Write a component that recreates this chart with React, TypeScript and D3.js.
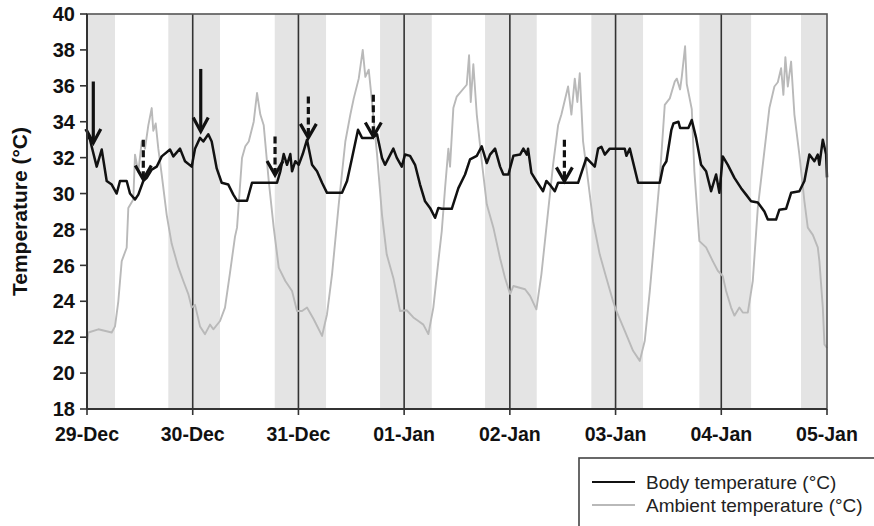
import React from "react";
import * as d3 from "d3";

// hours since 29-Dec 00:00
const dayLabels = ["29-Dec", "30-Dec", "31-Dec", "01-Jan", "02-Jan", "03-Jan", "04-Jan", "05-Jan"];
const yTicks = [18, 20, 22, 24, 26, 28, 30, 32, 34, 36, 38, 40];
const nightStarts = [0, 18.46, 42.62, 66.53, 90.37, 114.5, 139.03, 162.1];
const nightEnds = [6.36, 30.2, 54.27, 78.27, 102.1, 126.24, 150.77, 168];

const bodyHours = [0, 0.68, 2.2, 3.34, 4.47, 5.61, 6.74, 7.49, 9.01, 9.76, 10.9, 11.65, 12.78, 13.56, 14.69, 15.83, 16.96, 18.85, 19.6, 21.12, 22.25, 23.77, 24.52, 25.66, 26.41, 27.54, 28.31, 29.45, 30.58, 32.08, 33.22, 34.06, 36.33, 37.46, 43.14, 43.89, 44.66, 45.41, 46.16, 46.55, 47.3, 48.07, 48.98, 49.95, 51.09, 52.22, 53.36, 54.49, 57.9, 59.04, 60.17, 61.53, 62.44, 64.71, 65.85, 66.98, 67.66, 69.55, 70.32, 71.46, 72.2, 73.34, 74.48, 75.61, 76.75, 77.88, 79.02, 79.77, 80.54, 82.81, 84.31, 85.83, 86.96, 88.49, 89.62, 90.76, 91.5, 92.64, 93.78, 94.53, 95.66, 96.8, 98.32, 99.07, 99.84, 100.13, 100.89, 102.02, 103.54, 104.29, 105.06, 106.2, 106.95, 111.49, 113.37, 114.51, 115.28, 116.03, 116.78, 117.55, 118.68, 122.09, 122.45, 123.23, 125.11, 130.04, 130.79, 131.54, 132.67, 133.13, 134.27, 134.65, 136.53, 137.3, 138.28, 139.41, 140.55, 141.69, 142.82, 143.57, 144.34, 145.48, 146.98, 148.5, 149.63, 150.77, 152.29, 153.79, 154.56, 156.44, 157.19, 158.71, 159.85, 161.73, 162.87, 164.0, 165.14, 165.91, 166.27, 167.05, 167.8, 168];
const bodyTemps = [33.3, 33.0, 31.5, 32.45, 30.7, 30.5, 30.0, 30.7, 30.7, 30.0, 29.67, 29.94, 30.7, 30.87, 31.33, 31.5, 32.07, 32.45, 32.07, 32.5, 31.8, 31.5, 32.5, 33.1, 32.9, 33.3, 32.9, 31.4, 30.6, 30.5, 29.94, 29.6, 29.6, 30.6, 30.6, 31.24, 32.2, 31.6, 32.2, 31.24, 31.8, 31.6, 32.2, 33.0, 31.6, 31.24, 30.6, 30.04, 30.04, 30.7, 31.98, 33.55, 33.1, 33.1, 33.3, 31.98, 31.6, 32.5, 32.0, 31.5, 32.17, 32.1, 31.6, 30.5, 29.57, 29.2, 28.65, 29.2, 29.15, 29.15, 30.3, 31.06, 31.9, 32.1, 32.63, 31.7, 32.17, 32.5, 31.5, 31.06, 31.06, 32.1, 32.17, 32.5, 32.17, 32.5, 31.15, 30.7, 30.13, 30.7, 30.5, 30.13, 30.6, 30.6, 31.98, 31.7, 31.5, 32.5, 32.6, 32.17, 32.5, 32.5, 32.1, 32.5, 30.6, 30.6, 31.5, 31.8, 33.55, 33.9, 34.0, 33.65, 33.65, 34.1, 33.1, 31.6, 31.24, 30.13, 31.06, 30.04, 32.07, 31.6, 30.87, 30.3, 29.94, 29.57, 29.5, 29.0, 28.55, 28.55, 29.1, 29.15, 30.04, 30.13, 30.7, 32.17, 31.8, 32.17, 31.6, 33.0, 32.17, 30.9];

const ambientHours = [0, 0.3, 2.57, 5.61, 6.36, 7.11, 7.88, 9.01, 9.38, 10.51, 10.9, 11.65, 12.42, 13.17, 13.92, 14.69, 15.05, 15.6, 16.19, 16.96, 18.1, 19.23, 20.73, 21.87, 23.0, 23.77, 24.52, 25.66, 26.79, 27.93, 28.68, 30.2, 31.33, 32.47, 33.6, 34.06, 35.19, 35.94, 36.72, 37.85, 38.6, 39.35, 40.12, 41.26, 42.39, 43.53, 45.03, 46.55, 47.68, 48.82, 49.95, 51.47, 53.36, 54.49, 55.63, 57.15, 58.65, 59.79, 60.56, 61.69, 62.6, 63.19, 63.96, 64.71, 65.85, 66.98, 68.05, 69.55, 71.07, 72.59, 74.09, 75.23, 76.36, 77.5, 78.63, 79.77, 80.54, 81.29, 82.04, 82.42, 83.17, 83.94, 86.21, 86.74, 87.12, 87.71, 88.49, 89.62, 90.76, 92.26, 93.78, 94.91, 96.05, 96.8, 99.45, 100.59, 102.02, 103.16, 104.29, 105.81, 106.95, 107.7, 109.22, 109.97, 110.74, 111.33, 111.87, 112.62, 113.76, 114.89, 116.41, 117.91, 119.43, 120.18, 122.09, 123.97, 125.5, 126.63, 127.77, 128.9, 130.04, 131.17, 132.31, 133.44, 133.9, 134.65, 135.03, 135.78, 136.16, 137.3, 137.89, 139.03, 140.55, 142.07, 143.21, 144.34, 145.09, 146.23, 146.98, 148.11, 148.89, 150.02, 151.15, 152.29, 153.42, 154.92, 156.06, 156.83, 157.58, 158.1, 158.55, 159.1, 159.85, 160.6, 161.73, 162.87, 163.64, 164.78, 165.91, 166.27, 167.05, 167.42, 168];
const ambientTemps = [21.6, 22.26, 22.44, 22.26, 22.6, 24.0, 26.24, 26.98, 29.2, 29.67, 32.17, 31.2, 32.9, 32.5, 33.8, 34.76, 33.5, 33.9, 32.5, 31.06, 28.8, 27.2, 25.9, 25.13, 24.4, 23.65, 23.8, 22.6, 22.17, 22.7, 22.44, 22.9, 23.65, 25.6, 27.6, 28.1, 31.98, 32.63, 32.9, 34.0, 35.6, 34.4, 33.8, 30.7, 28.1, 25.87, 25.13, 24.57, 23.46, 23.46, 23.65, 23.0, 22.07, 23.28, 25.5, 29.4, 32.9, 34.4, 35.3, 36.4, 38.0, 36.5, 36.9, 35.1, 32.17, 28.8, 26.6, 25.3, 23.46, 23.5, 23.1, 22.9, 22.7, 22.17, 23.65, 26.24, 27.9, 30.3, 32.5, 31.5, 34.76, 35.4, 36.06, 37.7, 35.1, 37.2, 34.4, 31.8, 29.4, 28.1, 26.4, 25.3, 24.4, 24.85, 24.67, 24.3, 23.55, 25.5, 28.1, 31.6, 33.8, 34.4, 35.96, 34.4, 36.4, 35.1, 36.7, 32.9, 30.7, 28.46, 26.6, 25.3, 24.0, 23.46, 22.35, 21.24, 20.68, 21.8, 24.57, 27.7, 30.87, 34.94, 35.3, 36.24, 36.4, 35.8, 36.5, 38.2, 36.1, 34.7, 31.24, 27.35, 27.0, 26.24, 25.7, 25.4, 24.57, 23.65, 23.2, 23.65, 23.37, 23.37, 25.13, 29.2, 31.6, 34.76, 35.96, 36.2, 36.98, 35.5, 37.6, 35.96, 37.35, 34.4, 32.17, 29.57, 28.1, 27.7, 27.0, 26.24, 23.65, 21.6, 21.4];

// annotation arrows: hour, top temperature, tip temperature, dashed?
const arrowHours = [1.43, 25.82, 12.78, 42.69, 50.25, 65.0, 108.38];
const arrowTops = [36.24, 36.94, 33.0, 33.18, 35.41, 35.5, 33.0];
const arrowTips = [32.82, 33.46, 30.78, 31.03, 33.1, 33.18, 30.68];
const arrowDashed = [false, false, true, true, true, true, true];

const legendLabels = ["Body temperature (°C)", "Ambient temperature (°C)"];

export default function App() {
  const W = 874, H = 526;
  const x = d3.scaleLinear().domain([0, 168]).range([87, 827]);
  const y = d3.scaleLinear().domain([18, 40]).range([409, 14]);
  const mk = (hs: number[], ts: number[]) =>
    d3.line<number>().x((h) => x(h)).y((_, i) => y(ts[i])).curve(d3.curveLinear)(hs) || "";
  const dayHours = dayLabels.map((_, i) => i * 24);
  const font = "'Liberation Sans', Arial, sans-serif";
  return (
    <svg width={W} height={H} style={{ position: "absolute", left: 0, top: 0, background: "#fff" }}>
      {nightStarts.map((s, i) => (
        <rect key={"n" + i} x={x(s)} y={y(40)} width={x(nightEnds[i]) - x(s)} height={y(18) - y(40)} fill="#e4e4e4" />
      ))}
      {dayHours.slice(1, -1).map((h) => (
        <line key={"v" + h} x1={x(h)} x2={x(h)} y1={y(40)} y2={y(18)} stroke="#333" strokeWidth={1.6} />
      ))}
      <path d={mk(ambientHours, ambientTemps)} fill="none" stroke="#b9b9b9" strokeWidth={1.9} strokeLinejoin="round" />
      <path d={mk(bodyHours, bodyTemps)} fill="none" stroke="#111" strokeWidth={2.5} strokeLinejoin="round" />
      {arrowHours.map((h, i) => {
        const ax = x(h), yt = y(arrowTops[i]), yp = y(arrowTips[i]);
        const hw = arrowDashed[i] ? 8 : 7.5;
        return (
          <g key={"a" + i} stroke="#111" strokeWidth={3.2} fill="none">
            <line x1={ax} x2={ax} y1={yt} y2={yp - 2} strokeDasharray={arrowDashed[i] ? "7,3.5" : undefined} />
            <polyline points={`${ax - hw},${yp - 14} ${ax},${yp} ${ax + hw},${yp - 14}`} strokeLinejoin="miter" />
          </g>
        );
      })}
      {/* frame */}
      <rect x={x(0)} y={y(40)} width={x(168) - x(0)} height={y(18) - y(40)} fill="none" stroke="#555" strokeWidth={1.6} />
      <line x1={x(0)} x2={x(168)} y1={y(18)} y2={y(18)} stroke="#333" strokeWidth={2} />
      <line x1={x(0)} x2={x(0)} y1={y(40)} y2={y(18)} stroke="#333" strokeWidth={2} />
      {yTicks.map((t) => (
        <g key={"y" + t}>
          <line x1={x(0) - 7} x2={x(0)} y1={y(t)} y2={y(t)} stroke="#333" strokeWidth={1.6} />
          <text x={75} y={y(t)} dy="0.36em" textAnchor="end" fontFamily={font} fontWeight="bold" fontSize={20} fill="#111">
            {t}
          </text>
        </g>
      ))}
      {dayHours.map((h, i) => (
        <g key={"x" + h}>
          <line x1={x(h)} x2={x(h)} y1={y(18)} y2={y(18) + 6} stroke="#333" strokeWidth={1.6} />
          <text x={x(h)} y={441} textAnchor="middle" fontFamily={font} fontWeight="bold" fontSize={19.5} fill="#111">
            {dayLabels[i]}
          </text>
        </g>
      ))}
      <text transform={`translate(27,${(y(40) + y(18)) / 2}) rotate(-90)`} textAnchor="middle" fontFamily={font} fontWeight="bold" fontSize={21} fill="#111">
        Temperature (°C)
      </text>
      {/* legend */}
      <rect x={579} y={458} width={320} height={100} fill="#fff" stroke="#444" strokeWidth={1.6} />
      {legendLabels.map((l, i) => (
        <g key={"l" + i}>
          <line x1={592} x2={635} y1={482 + i * 23} y2={482 + i * 23} stroke={i === 0 ? "#111" : "#b9b9b9"} strokeWidth={2} />
          <text x={646} y={482 + i * 23} dy="0.36em" fontFamily={font} fontSize={19} fill="#222">
            {l}
          </text>
        </g>
      ))}
    </svg>
  );
}
